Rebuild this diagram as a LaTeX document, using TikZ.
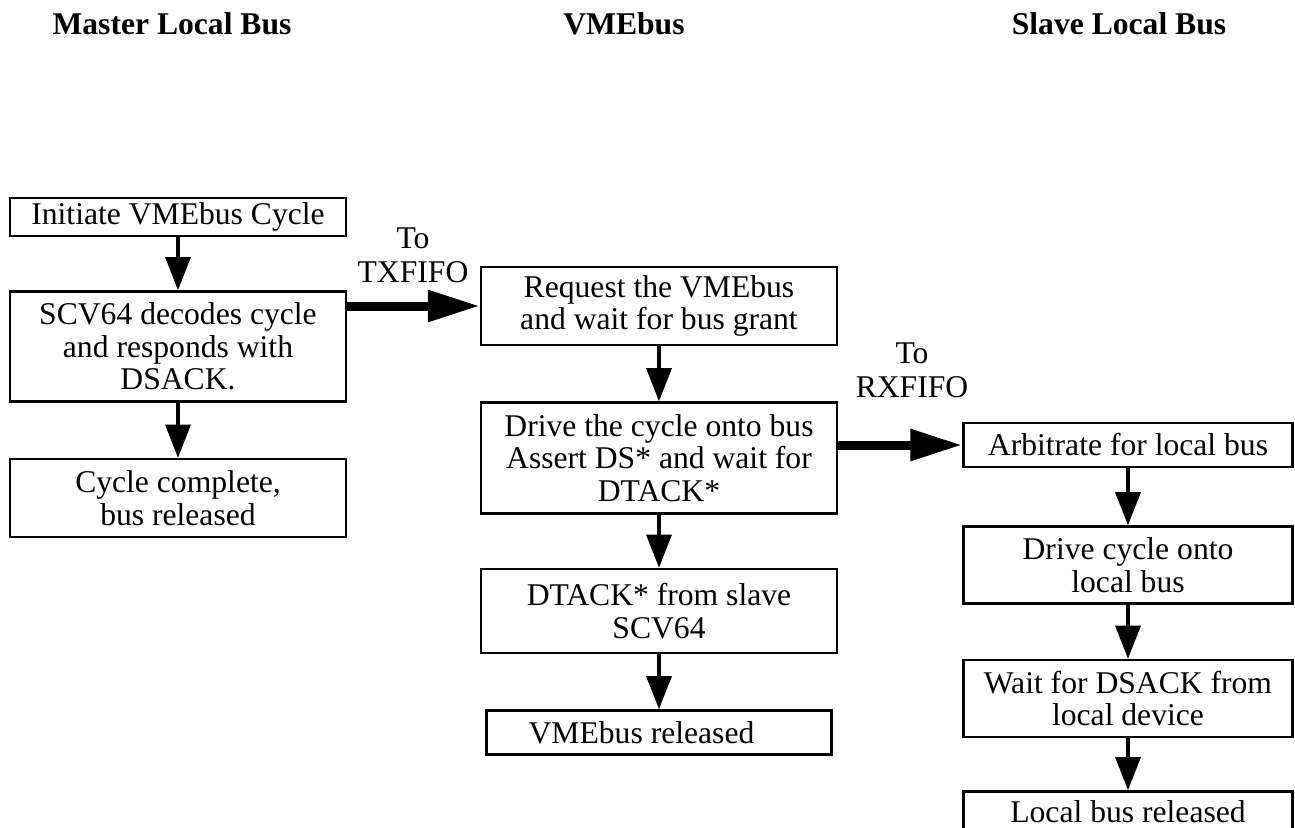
\documentclass[tikz,border=0pt]{standalone}
\usepackage{fontspec}
\setmainfont{Liberation Serif}
\usetikzlibrary{positioning,arrows.meta}

\begin{document}
\begin{tikzpicture}[
		x = 0.02cm, y = -0.02cm,
		stepbox/.style = {
			draw,
			rectangle,
			line width = 0.05cm,
			align = center,
			inner sep = 1pt,
			font = \fontsize{18}{18.5}\selectfont,
		},
		heading/.style = {
			font = \fontsize{18}{18.5}\selectfont\bfseries,
		},
		fifo/.style = {
			align = center,
			font = \fontsize{18}{19.3}\selectfont,
		},
		flow/.style = {
			line width = 0.066cm,
			-{Triangle[length = 0.66cm, width = 0.5cm]},
		},
		transfer/.style = {
			line width = 0.18cm,
			-{Triangle[length = 1.04cm, width = 0.6cm]},
		},
	]
	\useasboundingbox (0, 0) rectangle (1295, 828);

	\node [heading] (hMaster) at (172, 24) {Master Local Bus};
	\node [heading] (hVme) at (624, 24) {VMEbus};
	\node [heading] (hSlave) at (1119, 24) {Slave Local Bus};

	\node [stepbox, minimum width = 6.72cm, minimum height = 0.76cm] (initCycle) at (178, 217) {Initiate VMEbus Cycle};
	\node [stepbox, minimum width = 6.72cm, minimum height = 2.2cm, below = 1.06cm of initCycle] (decodeCycle) {SCV64 decodes cycle\\and responds with\\DSACK.};
	\node [stepbox, minimum width = 6.72cm, minimum height = 1.56cm, below = 1.1cm of decodeCycle] (cycleDone) {Cycle complete,\\bus released};

	\node [stepbox, minimum width = 7.12cm, minimum height = 1.56cm] (reqBus) at (659, 306) {Request the VMEbus\\and wait for bus grant};
	\node [stepbox, minimum width = 7.12cm, minimum height = 2.22cm, below = 1.1cm of reqBus] (driveBus) {Drive the cycle onto bus\\Assert DS* and wait for\\DTACK*};
	\node [stepbox, minimum width = 7.12cm, minimum height = 1.68cm, below = 1.06cm of driveBus] (dtackSlave) {DTACK* from slave\\SCV64};
	\node [stepbox, minimum width = 6.9cm, minimum height = 0.88cm, below = 1.1cm of dtackSlave] (vmeDone) {VMEbus released\hspace*{0.7cm}};

	\node [stepbox, minimum width = 6.58cm, minimum height = 0.88cm] (arbLocal) at (1128, 445) {Arbitrate for local bus};
	\node [stepbox, minimum width = 6.58cm, minimum height = 1.54cm, below = 1.14cm of arbLocal] (driveLocal) {Drive cycle onto\\local bus};
	\node [stepbox, minimum width = 6.58cm, minimum height = 1.54cm, below = 1.08cm of driveLocal] (waitDsack) {Wait for DSACK from\\local device};
	\node [stepbox, minimum width = 6.58cm, minimum height = 0.8cm, below = 1.04cm of waitDsack] (localDone) {Local bus released};

	\node [fifo] (toTx) at (413, 255) {To\\TXFIFO};
	\node [fifo] (toRx) at (912, 370) {To\\RXFIFO};

	\draw [flow] (initCycle) to (decodeCycle);
	\draw [flow] (decodeCycle) to (cycleDone);

	\draw [flow] (reqBus) to (driveBus);
	\draw [flow] (driveBus) to (dtackSlave);
	\draw [flow] (dtackSlave) to (vmeDone);

	\draw [flow] (arbLocal) to (driveLocal);
	\draw [flow] (driveLocal) to (waitDsack);
	\draw [flow] (waitDsack) to (localDone);

	\draw [transfer] (decodeCycle.east |- reqBus.west) to (reqBus.west);
	\draw [transfer] (driveBus.east |- arbLocal.west) to (arbLocal.west);
\end{tikzpicture}
\end{document}
